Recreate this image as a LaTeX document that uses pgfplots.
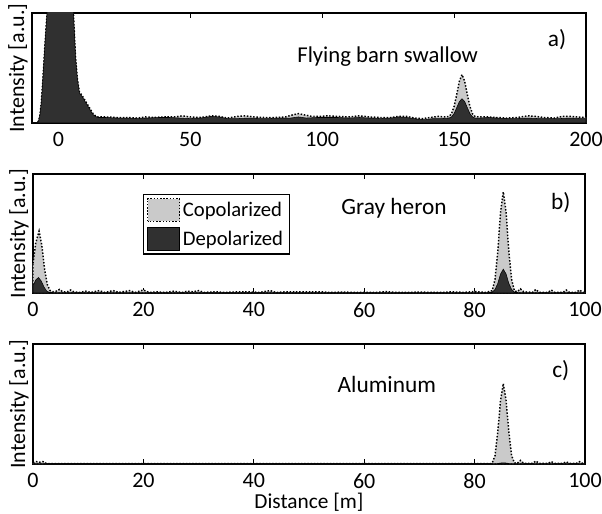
\documentclass[border=0pt]{standalone}
\usepackage{fontspec}
\setmainfont{Carlito}
\usepackage{pgfplots}
\pgfplotsset{compat=1.18}
\definecolor{copol}{HTML}{CACACA}
\definecolor{depol}{HTML}{303030}
\pgfplotsset{
  panel/.style={
    scale only axis,
    ymin=0, ymax=1,
    ytick=\empty,
    tick align=inside,
    major tick length=3.5pt,
    axis line style={line width=0.9pt},
    every tick/.style={black, line width=0.9pt},
    /pgf/number format/assume math mode=true,
    tick label style={font=\fontsize{16.5}{18}\selectfont},
    xticklabel style={yshift=-3.5pt},
    ylabel={Intensity [a.u.]},
    ylabel style={at={([xshift=-10.5pt]axis description cs:0,0.5)}, anchor=center, rotate=0, font=\fontsize{16.5}{18}\selectfont},
    clip=true,
  },
  copolstyle/.style={fill=copol, draw=black, dash pattern=on 1.1pt off 1.3pt, line width=1.1pt,
    legend image code/.code={\draw[##1] (0pt,-8.5pt) rectangle (24pt,8.5pt);}},
  depolstyle/.style={fill=depol, draw=black, solid, line width=0.4pt,
    legend image code/.code={\draw[##1] (0pt,-8.5pt) rectangle (24pt,8.5pt);}},
}
\begin{document}
\begin{tikzpicture}
\useasboundingbox (0,0) rectangle (451.5pt,-384.75pt);
% ---------- a) ----------
\begin{axis}[panel, at={(24pt,-9.75pt)}, anchor=north west,
  width=415.5pt, height=82.5pt,
  xmin=-10, xmax=200, xtick={0,50,100,150,200}]
\addplot[copolstyle] coordinates {
(-10,0) (-8,0.0) (-7.5,0.02) (-7,0.07) (-6.5,0.18) (-6,0.35) (-5,0.75) (-4,1.1) (-3,1.5) (0,2) (3,1.6) (5,1.15) (5.7,1.0) (6.5,0.6) (7.2,0.4) (8,0.28) (9,0.25) (10,0.21) (11,0.17) (12,0.13) (13,0.09) (14,0.065) (15,0.055) (18,0.055) (22,0.05) (26,0.05) (30,0.045) (33,0.055) (36,0.05) (40,0.055) (44,0.055) (47,0.065) (50,0.055) (54,0.05) (58,0.065) (61,0.06) (64,0.045) (68,0.06) (71,0.065) (74,0.055) (78,0.05) (82,0.05) (86,0.055) (89,0.075) (91,0.085) (93,0.075) (96,0.06) (99,0.06) (102,0.065) (106,0.06) (110,0.055) (114,0.065) (118,0.055) (122,0.05) (126,0.05) (129,0.06) (132,0.06) (135,0.045) (138,0.04) (141,0.05) (144,0.06) (146,0.055) (148,0.058) (149,0.083) (150,0.15) (151,0.26) (152,0.38) (153,0.44) (154,0.38) (155,0.26) (156,0.15) (157,0.083) (158,0.058) (160,0.055) (163,0.055) (166,0.05) (170,0.045) (174,0.05) (178,0.065) (181,0.06) (184,0.05) (188,0.045) (191,0.06) (194,0.06) (197,0.055) (200,0.05)
} \closedcycle;
\addplot[depolstyle] coordinates {
(-10,0) (-8,0.0) (-7.5,0.02) (-7,0.07) (-6.5,0.18) (-6,0.35) (-5,0.75) (-4,1.1) (-3,1.5) (0,2) (3,1.6) (5,1.15) (5.7,1.0) (6.5,0.6) (7.2,0.4) (8,0.27) (9,0.24) (10,0.2) (11,0.16) (12,0.12) (13,0.08) (14,0.06) (15,0.05) (18,0.05) (22,0.045) (26,0.045) (30,0.04) (34,0.045) (38,0.05) (42,0.05) (46,0.045) (50,0.04) (54,0.045) (58,0.06) (61,0.055) (64,0.04) (68,0.04) (72,0.045) (76,0.04) (80,0.04) (84,0.045) (88,0.045) (91,0.055) (94,0.045) (98,0.05) (102,0.05) (106,0.05) (110,0.045) (114,0.05) (118,0.045) (122,0.04) (126,0.045) (129,0.055) (132,0.05) (136,0.035) (139,0.03) (142,0.04) (145,0.04) (147,0.042) (148,0.044) (149,0.055) (150,0.085) (151,0.14) (152,0.195) (153,0.22) (154,0.195) (155,0.14) (156,0.085) (157,0.055) (158,0.044) (160,0.045) (163,0.05) (166,0.045) (170,0.04) (174,0.04) (178,0.045) (182,0.04) (186,0.04) (190,0.04) (194,0.045) (198,0.04) (200,0.04)
} \closedcycle;
\node[font=\fontsize{17}{19}\selectfont] at (axis cs:124.8,0.60) {Flying barn swallow};
\node[font=\fontsize{17.5}{19}\selectfont] at (axis cs:189,0.76) {a)};
\end{axis}
% ---------- b) ----------
\begin{axis}[panel, at={(24.75pt,-130.5pt)}, anchor=north west,
  width=414pt, height=89.25pt,
  xmin=0, xmax=100, xtick={0,20,40,60,80,100},
  legend style={at={(rel axis cs:0.199,0.832)}, anchor=north west,
    draw=black, line width=0.9pt, font=\fontsize{15.5}{17}\selectfont,
    inner sep=2.5pt, row sep=4pt, cells={anchor=west}},
  legend cell align=left]
\addplot[copolstyle] coordinates {
(0,0.25) (0.5,0.42) (1.1,0.52) (1.6,0.40) (2.1,0.2) (2.6,0.07) (3.1,0.02) (3.6,0.01) (4.2,0.015) (4.8,0.03) (5.4,0.01) (6.2,0.01) (6.8,0.025) (7.4,0.01) (8.5,0.005) (9.5,0.015) (10.5,0.005) (12,0.02) (13,0.005) (14.5,0.02) (15.5,0.005) (17.5,0.02) (18.5,0.005) (20,0.025) (21,0.005) (22.5,0.01) (24,0.005) (25.5,0.015) (27,0.005) (28,0.015) (29,0.01) (30,0.02) (31,0.005) (33,0.01) (35,0.005) (37,0.01) (39,0.01) (41,0.005) (43,0.02) (44,0.005) (46,0.01) (48,0.01) (50,0.01) (52,0.01) (54,0.005) (56,0.008) (58,0.005) (60,0.005) (62,0.005) (64,0.012) (66,0.005) (68,0.005) (70,0.008) (72,0.005) (74,0.005) (76,0.01) (78,0.005) (80,0.012) (82,0.005) (83.2,0.02) (83.7,0.115) (84.2,0.35) (84.7,0.68) (85.2,0.85) (85.7,0.68) (86.2,0.35) (86.7,0.115) (87.2,0.02) (87.7,0.01) (88.3,0.035) (88.9,0.01) (90.5,0.005) (91.1,0.03) (91.7,0.005) (93.3,0.005) (93.9,0.025) (94.5,0.005) (96,0.005) (96.6,0.025) (97.2,0.005) (98.4,0.005) (99,0.025) (99.6,0.005) (100,0.005)
} \closedcycle;
\addlegendentry{Copolarized}
\addplot[depolstyle] coordinates {
(0,0.06) (0.5,0.11) (1.0,0.13) (1.5,0.10) (2.0,0.05) (2.5,0.015) (3.0,0.005) (4,0.003) (82.5,0.003) (83.2,0.008) (83.7,0.03) (84.2,0.08) (84.7,0.16) (85.2,0.20) (85.7,0.16) (86.2,0.08) (86.7,0.03) (87.2,0.008) (88,0.003) (100,0.003)
} \closedcycle;
\addlegendentry{Depolarized}
\node[font=\fontsize{17.5}{19}\selectfont] at (axis cs:65.4,0.71) {Gray heron};
\node[font=\fontsize{17.5}{19}\selectfont] at (axis cs:95.6,0.76) {b)};
\end{axis}
% ---------- c) ----------
\begin{axis}[panel, at={(24.75pt,-258pt)}, anchor=north west,
  width=414pt, height=90pt,
  xmin=0, xmax=100, xtick={0,20,40,60,80,100},
  xlabel={Distance [m]},
  xlabel style={at={([yshift=-28.5pt]axis description cs:0.5,0)}, anchor=center, inner sep=0pt, font=\fontsize{16}{18}\selectfont}]
\addplot[copolstyle] coordinates {
(0,0.01) (0.6,0.02) (1.2,0.015) (1.8,0.02) (2.4,0.005) (3,0.003) (83,0.003) (83.2,0.01) (83.7,0.07) (84.2,0.27) (84.7,0.53) (85.2,0.67) (85.7,0.53) (86.2,0.27) (86.7,0.07) (87.2,0.01) (87.7,0.005) (88.3,0.03) (88.9,0.005) (90.5,0.005) (91.1,0.025) (91.7,0.005) (93.3,0.005) (93.9,0.02) (94.5,0.005) (96,0.005) (96.6,0.018) (97.2,0.005) (98.4,0.005) (99,0.02) (99.6,0.005) (100,0.003)
} \closedcycle;
\addplot[depolstyle] coordinates {
(0,0.003) (84,0.003) (84.7,0.008) (85.2,0.01) (85.7,0.008) (86.4,0.003) (100,0.003)
} \closedcycle;
\node[font=\fontsize{17.5}{19}\selectfont] at (axis cs:64.1,0.66) {Aluminum};
\node[font=\fontsize{17.5}{19}\selectfont] at (axis cs:95.6,0.78) {c)};
\end{axis}
\end{tikzpicture}
\end{document}
